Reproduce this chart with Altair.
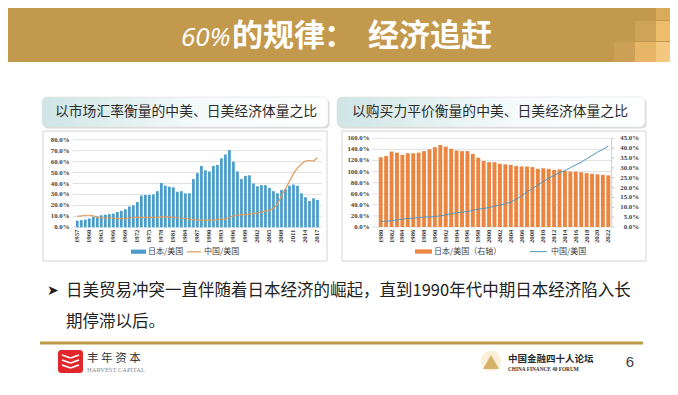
import altair as alt
import pandas as pd

OX, OY = 8, 8
W, H = 662, 379

# ---------------- data ----------------
years_mkt = list(range(1957, 2018))
japan_us_mkt = [6, 6.5, 7, 8, 9.5, 10, 11, 11.5, 12, 12.5,
                14, 15, 16.5, 19, 20, 23, 29, 29.5, 29.5, 30,
                33, 40.5, 38, 37, 36.5, 32.5, 33, 31, 31, 44,
                49.5, 56, 52, 51, 56, 57, 63, 66.5, 70.5, 60,
                51, 44, 47, 47.5, 40, 37.5, 38.5, 38.5, 36, 33,
                31, 34, 35, 38, 39, 38, 31, 27.5, 24, 26.5, 25]
china_us_mkt = [10, 10.5, 11, 11, 10.5, 9, 8.5, 8.5, 8.5, 8.5,
                8, 8, 8, 8.5, 9, 9, 9, 9, 9, 9,
                9, 9.5, 9.5, 9.5, 9, 8.5, 8.5, 8, 7.5, 7,
                6.5, 6.5, 6.5, 6.5, 6.5, 7, 7.5, 7.5, 9, 10.5,
                11, 11.5, 11.5, 12, 12.5, 13, 14, 15, 15.5, 17.5,
                21, 29, 35, 42, 49, 54, 58, 60.5, 61, 60.5, 63.5]
mkt_ticks = [0, 10, 20, 30, 40, 50, 60, 70, 80]
mkt_tick_labels = ["0.0%", "10.0%", "20.0%", "30.0%", "40.0%", "50.0%", "60.0%", "70.0%", "80.0%"]
mkt_label_years = list(range(1957, 2018, 3))

years_ppp = list(range(1980, 2023))
japan_us_ppp = [35.4, 36.0, 38.3, 37.7, 36.6, 37.4, 37.4, 37.7, 38.5, 39.4,
                40.5, 41.6, 40.8, 39.7, 38.8, 38.5, 38.5, 37.1, 35.2, 33.5,
                32.9, 32.9, 32.1, 31.8, 31.5, 30.9, 30.7, 30.7, 30.4, 29.5,
                29.8, 29.5, 29.0, 29.2, 28.4, 28.1, 28.1, 27.8, 27.3, 27.0,
                26.7, 26.4, 26.2]
china_us_ppp = [10, 10.5, 11.5, 12.5, 14, 15.5, 16, 17, 18, 18,
                19, 20, 22, 24, 25.5, 27, 28, 30, 32, 33.5,
                35, 37.5, 39.5, 42, 45, 50, 56, 63, 69, 76,
                82, 88, 93, 98, 102, 107, 112, 117, 123, 129,
                135, 140, 146]
ppp_left_ticks = [0, 20, 40, 60, 80, 100, 120, 140, 160]
ppp_left_labels = ["0.0%", "20.0%", "40.0%", "60.0%", "80.0%", "100.0%", "120.0%", "140.0%", "160.0%"]
ppp_right_ticks = [0, 5, 10, 15, 20, 25, 30, 35, 40, 45]
ppp_right_labels = ["0.0%", "5.0%", "10.0%", "15.0%", "20.0%", "25.0%", "30.0%", "35.0%", "40.0%", "45.0%"]
ppp_label_years = list(range(1980, 2023, 2))

title_parts = ["60%", "的规律", "：", "经济追赶"]
header_left = "以市场汇率衡量的中美、日美经济体量之比"
header_right = "以购买力平价衡量的中美、日美经济体量之比"
legend_japan = "日本/美国"
legend_china = "中国/美国"
legend_japan_r = "日本/美国（右轴）"
bullet_line1 = "日美贸易冲突一直伴随着日本经济的崛起，直到1990年代中期日本经济陷入长"
bullet_line2 = "期停滞以后。"

CJK = "Noto Sans CJK SC"
SERIF = "Liberation Serif"
one = pd.DataFrame({"k": [0]})


def px(x):
    return x - OX


def py(y):
    return y - OY


def box(x0, y0, x1, y1, **kw):
    return alt.Chart(one).mark_rect(**kw).encode(
        x=alt.value(px(x0)), x2=alt.value(px(x1)),
        y=alt.value(py(y0)), y2=alt.value(py(y1)))


def seg(x0, y0, x1, y1, **kw):
    return alt.Chart(one).mark_rule(**kw).encode(
        x=alt.value(px(x0)), x2=alt.value(px(x1)),
        y=alt.value(py(y0)), y2=alt.value(py(y1)))


def label(x, y, s, **kw):
    kw.setdefault("baseline", "middle")
    return alt.Chart(one).mark_text(text=s, **kw).encode(
        x=alt.value(px(x)), y=alt.value(py(y)))


layers = []

# ---------------- banner ----------------
BANNER = "#C39A4D"
layers.append(box(0, 0, 678, 62, color=BANNER))
for (x0, y0, c) in [(656, 0, "#D9AC5C"), (635, 21, "#D0A458"), (656, 21, "#EDBD6C"),
                    (614, 42, "#CCA155"), (635, 42, "#E6B666"), (656, 42, "#F4C87E")]:
    layers.append(box(x0, y0, x0 + 21, y0 + 20, color=c))
layers.append(label(181, 38, title_parts[0], font="Open Sans", fontStyle="italic",
                    fontSize=26, color="white", align="left"))
layers.append(label(232, 37, title_parts[1], font=CJK, fontWeight="bold",
                    fontSize=31, color="white", align="left"))
layers.append(label(324, 37, title_parts[2], font=CJK, fontWeight="bold",
                    fontSize=31, color="white", align="left"))
layers.append(label(368, 37, title_parts[3], font=CJK, fontWeight="bold",
                    fontSize=31, color="white", align="left"))

# ---------------- header boxes ----------------
grad = alt.LinearGradient(gradient="linear",
                          stops=[alt.GradientStop(color="#CFE5E6", offset=0),
                                 alt.GradientStop(color="#F4FAFA", offset=0.55),
                                 alt.GradientStop(color="#FFFFFF", offset=1)],
                          x1=0, x2=1, y1=0, y2=0)
for (x0, x1, txt, tx) in [(42, 328, header_left, 55), (337, 645, header_right, 352)]:
    layers.append(box(x0 + 1.5, 98.5, x1 + 1.5, 128.5, color="#C9C9C9", cornerRadius=5, opacity=0.7))
    layers.append(box(x0, 97, x1, 127, color=grad, cornerRadius=5, stroke="#E2E2E2", strokeWidth=0.6))
    layers.append(label(tx, 111.5, txt, font=CJK, fontSize=13.8,
                        color="#2B2B2B", align="left"))

# ---------------- chart panels ----------------
layers.append(box(43, 131, 327, 261, color="white", stroke="#D4D4D4", strokeWidth=1))
layers.append(box(342, 131, 646, 261, color="white", stroke="#D4D4D4", strokeWidth=1))

AXFONT = dict(font=SERIF, fontWeight="bold", fontSize=6.8, color="#3F3F3F")

# ----- left chart: market exchange rate -----
xs_m = alt.Scale(domain=[1956.5, 2017.5], range=[px(75.3), px(319.5)], nice=False, zero=False)
ys_m = alt.Scale(domain=[0, 80], range=[py(227.3), py(139.7)], nice=False, zero=False)
df_m = pd.DataFrame({"year": years_mkt, "japan": japan_us_mkt, "china": china_us_mkt})
tick_m = pd.DataFrame({"v": mkt_ticks, "lab": mkt_tick_labels})

layers.append(alt.Chart(tick_m).mark_rule(color="#D9D9D9", strokeWidth=0.8).encode(
    y=alt.Y("v:Q", scale=ys_m, axis=None), x=alt.value(px(73)), x2=alt.value(px(322))))
layers.append(alt.Chart(tick_m).mark_text(align="right", baseline="middle", **AXFONT).encode(
    y=alt.Y("v:Q", scale=ys_m, axis=None), x=alt.value(px(69.5)), text="lab:N"))
layers.append(alt.Chart(df_m).transform_calculate(
    x0="datum.year - 0.34", x1="datum.year + 0.34", zero="0").mark_bar(color="#4A9DCB").encode(
    x=alt.X("x0:Q", scale=xs_m, axis=None), x2="x1:Q",
    y=alt.Y("japan:Q", scale=ys_m, axis=None), y2="zero:Q"))
layers.append(alt.Chart(df_m).mark_line(color="#E39A5C", strokeWidth=1.2).encode(
    x=alt.X("year:Q", scale=xs_m, axis=None), y=alt.Y("china:Q", scale=ys_m, axis=None)))
layers.append(alt.Chart(pd.DataFrame({"year": mkt_label_years,
                                      "lab": [str(y) for y in mkt_label_years]})).mark_text(
    angle=270, align="right", baseline="middle", **AXFONT).encode(
    x=alt.X("year:Q", scale=xs_m, axis=None), y=alt.value(py(229.5)), text="lab:N"))
# legend
layers.append(box(131, 249.6, 146, 253.8, color="#4A9DCB"))
layers.append(label(148, 251.8, legend_japan, font=CJK, fontSize=8, color="#404040", align="left"))
layers.append(seg(187, 251.8, 201, 251.8, color="#E39A5C", strokeWidth=1.2))
layers.append(label(204, 251.8, legend_china, font=CJK, fontSize=8, color="#404040", align="left"))

# ----- right chart: PPP -----
xs_p = alt.Scale(domain=[1979.5, 2022.5], range=[px(378), px(611)], nice=False, zero=False)
ys_pl = alt.Scale(domain=[0, 160], range=[py(227), py(138.3)], nice=False, zero=False)
ys_pr = alt.Scale(domain=[0, 45], range=[py(227), py(138.3)], nice=False, zero=False)
df_p = pd.DataFrame({"year": years_ppp, "japan": japan_us_ppp, "china": china_us_ppp})
tick_pl = pd.DataFrame({"v": ppp_left_ticks, "lab": ppp_left_labels})
tick_pr = pd.DataFrame({"v": ppp_right_ticks, "lab": ppp_right_labels})

layers.append(alt.Chart(tick_pl).mark_rule(color="#D9D9D9", strokeWidth=0.8).encode(
    y=alt.Y("v:Q", scale=ys_pl, axis=None), x=alt.value(px(372)), x2=alt.value(px(611.7))))
layers.append(alt.Chart(tick_pl).mark_text(align="right", baseline="middle", **AXFONT).encode(
    y=alt.Y("v:Q", scale=ys_pl, axis=None), x=alt.value(px(369.5)), text="lab:N"))
layers.append(alt.Chart(df_p).transform_calculate(
    x0="datum.year - 0.36", x1="datum.year + 0.36", zero="0").mark_bar(color="#EB8540").encode(
    x=alt.X("x0:Q", scale=xs_p, axis=None), x2="x1:Q",
    y=alt.Y("japan:Q", scale=ys_pr, axis=None), y2="zero:Q"))
layers.append(seg(611.7, 138.3, 611.7, 227, color="#BFBFBF", strokeWidth=0.8))
layers.append(alt.Chart(tick_pr).mark_rule(color="#BFBFBF", strokeWidth=0.8).encode(
    y=alt.Y("v:Q", scale=ys_pr, axis=None), x=alt.value(px(611.7)), x2=alt.value(px(614.5))))
layers.append(alt.Chart(tick_pr).mark_text(align="right", baseline="middle", **AXFONT).encode(
    y=alt.Y("v:Q", scale=ys_pr, axis=None), x=alt.value(px(639)), text="lab:N"))
layers.append(alt.Chart(df_p).mark_line(color="#4F97C0", strokeWidth=1).encode(
    x=alt.X("year:Q", scale=xs_p, axis=None), y=alt.Y("china:Q", scale=ys_pl, axis=None)))
layers.append(alt.Chart(pd.DataFrame({"year": ppp_label_years,
                                      "lab": [str(y) for y in ppp_label_years]})).mark_text(
    angle=270, align="right", baseline="middle", **AXFONT).encode(
    x=alt.X("year:Q", scale=xs_p, axis=None), y=alt.value(py(229.5)), text="lab:N"))
layers.append(box(415, 249.4, 432, 253.6, color="#EB8540"))
layers.append(label(434, 251.6, legend_japan_r, font=CJK, fontSize=8, color="#404040", align="left"))
layers.append(seg(530, 251.6, 547, 251.6, color="#4F97C0", strokeWidth=1))
layers.append(label(551, 251.6, legend_china, font=CJK, fontSize=8, color="#404040", align="left"))

# ---------------- bullet text ----------------
layers.append(label(47, 291, "➤", font="DejaVu Sans", fontSize=14, color="#222222", align="left"))
layers.append(label(66, 291, bullet_line1, font=CJK, fontSize=16.5,
                    color="#222222", align="left"))
layers.append(label(66, 322, bullet_line2, font=CJK, fontSize=16.5,
                    color="#222222", align="left"))

# ---------------- footer ----------------
layers.append(box(40, 341.5, 643, 344.5, color="#BD9A45"))
layers.append(box(58, 350, 83, 373, color="#E1262C", cornerRadius=3))
for dy in (0, 5, 10):
    layers.append(seg(62, 355 + dy, 70.5, 358 + dy, color="white", strokeWidth=1.8))
    layers.append(seg(70.5, 358 + dy, 79, 355 + dy, color="white", strokeWidth=1.8))
layers.append(label(87, 358.5, "丰 年 资 本", font=CJK, fontSize=11.5, color="#333333", align="left"))
layers.append(label(87, 370, "HARVEST CAPITAL", font=SERIF, fontSize=6.5, color="#8A8A8A", align="left"))

layers.append(alt.Chart(one).mark_point(shape="circle", size=420, filled=True, color="#F6E9C6").encode(
    x=alt.value(px(491)), y=alt.value(py(361))))
layers.append(alt.Chart(one).mark_point(shape="triangle-up", size=260, filled=True, color="#C8963A").encode(
    x=alt.value(px(491)), y=alt.value(py(362))))
layers.append(label(508, 358.5, "中国金融四十人论坛", font=CJK, fontWeight="bold", fontSize=9.5,
                    color="#2A2A2A", align="left"))
layers.append(label(508, 368.5, "CHINA FINANCE 40 FORUM", font=SERIF, fontWeight="bold", fontSize=5.3,
                    color="#333333", align="left"))
layers.append(label(630, 362, "6", font="Liberation Sans", fontSize=15, color="#404040", align="center"))

chart = alt.layer(*layers).resolve_scale(x="independent", y="independent").properties(
    width=W, height=H, padding=0, autosize="none").configure_view(stroke=None)

chart.save("out.html", embed_options={"renderer": "svg", "actions": False})
